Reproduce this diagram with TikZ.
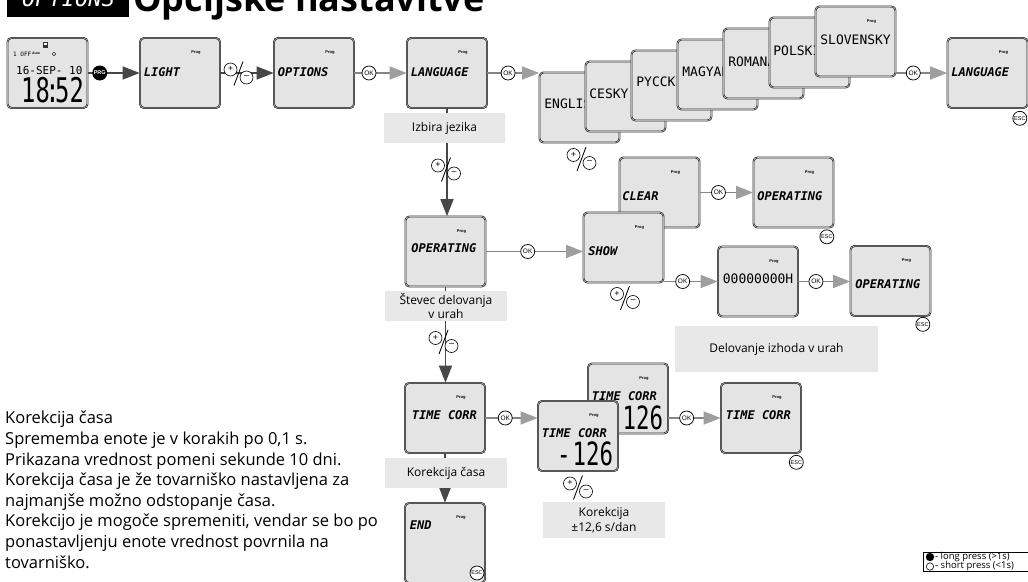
\documentclass[tikz,border=0pt]{standalone}
\usepackage{fontspec}
\setmainfont{Open Sans}
\newfontfamily\lcdf{DejaVu Sans Mono}
\newfontfamily\lcdbig{DejaVu Sans Mono}[FakeStretch=0.7]
\newfontfamily\tinyf{Liberation Sans}
\usetikzlibrary{arrows.meta,calc}
\definecolor{dispfill}{HTML}{E4E4E4}
\definecolor{boxfill}{HTML}{E8E8E8}
\tikzset{
  disp/.style={draw=black!85, line width=0.65pt, double=black!30, double distance=0.6pt,
    fill=dispfill, rounded corners=4pt, minimum width=80pt, minimum height=70pt, inner sep=0pt},
  lcdi/.style={font=\lcdf\bfseries\itshape\fontsize{12}{12}\selectfont, inner sep=0pt, anchor=west},
  lcdu/.style={font=\lcdf\fontsize{13}{13}\selectfont, inner sep=0pt, anchor=west},
  progs/.style={font=\tinyf\bfseries\fontsize{4}{4}\selectfont, inner sep=0pt},
  okc/.style={circle, draw=black, line width=0.75pt, fill=white, inner sep=0pt, minimum size=14pt,
    font=\tinyf\fontsize{6.5}{6.5}\selectfont},
  escc/.style={okc, font=\tinyf\fontsize{5.5}{5.5}\selectfont},
  prgc/.style={circle, fill=black, text=white, inner sep=0pt, minimum size=15pt,
    font=\tinyf\bfseries\fontsize{5.5}{5.5}\selectfont},
  lbl/.style={fill=boxfill, inner sep=0pt, align=center, font=\fontsize{12}{14.5}\selectfont},
  legt/.style={anchor=west, inner sep=0pt, font=\fontsize{9.5}{9.5}\selectfont},
  darr/.style={draw=black!72, line width=1.4pt, -{Triangle[length=17pt,width=13pt]}},
  larr/.style={draw=black!48, line width=1.4pt, -{Triangle[length=17pt,width=13pt,color=black!38]}},
  pm/.pic={
    \draw[line width=0.65pt, fill=white] (-8,-4) circle (6.5) (8,4) circle (6.5);
    \node[inner sep=0pt, font=\tinyf\fontsize{9}{9}\selectfont] (-p) at (-8,-4.4) {+};
    \node[inner sep=0pt, font=\tinyf\fontsize{9}{9}\selectfont] (-m) at (8,3.5) {–};
    \draw[line width=0.85pt] (4.5,-12) -- (-4.5,12);
  }
}
\newcommand\prog[1]{\node[progs] (#1-prog) at ($(#1.center)+(16,-20)$) {Prog};}
\newcommand\esc[2]{\node[escc] (#1-esc) at ($(#1.south east)+#2$) {ESC};}
\begin{document}
\begin{tikzpicture}[x=1pt,y=-1pt]
\useasboundingbox (0,0) rectangle (1028,581);
% ---------- title
\fill (7,-6) rectangle (129,17);
\node[font=\lcdf\itshape\fontsize{22}{22}\selectfont, text=white, anchor=base west, inner sep=0pt] (ttl-lcd) at (22,6) {OPTIONS};
\node[font=\bfseries\fontsize{36}{36}\selectfont, anchor=base west, inner sep=0pt] (ttl) at (133,11) {Opcijske nastavitve};
% ---------- row 1
\node[disp] (clk) at (47.5,73) {};
\fill[black!80] (43,42) rectangle (48,48);
\fill[white] (44,43) rectangle (47,45);
\node[font=\lcdf\fontsize{6}{6}\selectfont, inner sep=0pt, anchor=west] (clk-off) at (13,54) {1 OFF};
\node[font=\tinyf\bfseries\fontsize{3.5}{3.5}\selectfont, inner sep=0pt] (clk-auto) at (36,53) {Auto};
\draw[line width=0.4pt] (54,54) circle (1.8);
\node[font=\lcdf\fontsize{11}{11}\selectfont, inner sep=0pt, anchor=west] (clk-date) at (16,70) {16-SEP- 10};
\node[font=\lcdbig\fontsize{34}{34}\selectfont, inner sep=0pt, anchor=west] (clk-time) at (21,90) {18\kern-4.5pt:\kern-4.5pt52};

\node[disp] (light) at (180,73) {};
\node[lcdi] (light-t) at ($(light.west)+(4,-1)$) {LIGHT};
\prog{light}
\node[disp] (opts) at (314,73) {};
\node[lcdi] (opts-t) at ($(opts.west)+(4,-1)$) {OPTIONS};
\prog{opts}
\node[disp] (lang) at (447,73) {};
\node[lcdi] (lang-t) at ($(lang.west)+(4,-1)$) {LANGUAGE};
\prog{lang}

% language stack
\node[disp] (eng) at (579.5,107.5) {};
\node[lcdu] (eng-t) at ($(eng.west)+(5,-4)$) {ENGLISH};
\node[disp] (ces) at (625.5,96.5) {};
\node[lcdu] (ces-t) at ($(ces.west)+(4,-3)$) {CESKY};
\node[disp] (pyc) at (671.5,85.5) {};
\node[lcdu] (pyc-t) at ($(pyc.west)+(5,-4)$) {PYCCKI};
\node[disp] (mag) at (717.5,74.5) {};
\node[lcdu] (mag-t) at ($(mag.west)+(5,-3)$) {MAGYAR};
\node[disp] (rom) at (763.5,63.5) {};
\node[lcdu] (rom-t) at ($(rom.west)+(5,-2)$) {ROMANA};
\node[disp] (pol) at (809.5,52.5) {};
\node[lcdu] (pol-t) at ($(pol.west)+(4,-2)$) {POLSKI};
\node[disp] (slo) at (855.5,41.5) {};
\node[lcdu] (slo-t) at ($(slo.west)+(5,-2)$) {SLOVENSKY};
\prog{slo}

\node[disp] (lang2) at (987.5,73) {};
\node[lcdi] (lang2-t) at ($(lang2.west)+(4,-1)$) {LANGUAGE};
\prog{lang2}
\esc{lang2}{(-8,10)}

% ---------- vertical chain
\node[disp] (oper) at (445.5,251.5) {};
\node[lcdi] (oper-t) at ($(oper.west)+(6,-3)$) {OPERATING};
\prog{oper}
\node[disp] (tcorr) at (445,418) {};
\node[lcdi] (tcorr-t) at ($(tcorr.west)+(7,-3)$) {TIME CORR};
\prog{tcorr}
\node[disp, minimum height=80pt] (end) at (445,543) {};
\node[lcdi] (end-t) at ($(end.north west)+(5,22)$) {END};
\node[progs] (end-prog) at ($(end.north)+(16,15)$) {Prog};
\node[escc] (end-esc) at (477,573) {ESC};

% ---------- operating branch
\node[disp] (clear) at (659.5,192.5) {};
\node[lcdi] (clear-t) at ($(clear.west)+(3,4)$) {CLEAR};
\prog{clear}
\node[disp] (show) at (623.5,247.5) {};
\node[lcdi] (show-t) at ($(show.west)+(5,4)$) {SHOW};
\prog{show}
\node[disp] (oper2) at (793.5,192.5) {};
\node[lcdi] (oper2-t) at ($(oper2.west)+(4,4)$) {OPERATING};
\prog{oper2}
\esc{oper2}{(-7,9)}
\node[disp] (hours) at (758,281.5) {};
\node[lcdu] (hours-t) at ($(hours.west)+(5,-3)$) {00000000H};
\prog{hours}
\node[disp] (oper3) at (890.5,281) {};
\node[lcdi] (oper3-t) at ($(oper3.west)+(5,3)$) {OPERATING};
\prog{oper3}
\esc{oper3}{(-8,8)}

% ---------- time corr branch
\node[disp] (tcback) at (628,398.5) {};
\node[lcdi] (tcback-t) at ($(tcback.west)+(4,-2)$) {TIME CORR};
\node[font=\lcdbig\fontsize{32}{32}\selectfont, inner sep=0pt, anchor=east] (tcback-v) at ($(tcback.east)+(-5,19.5)$) {-\kern2pt126};
\prog{tcback}
\node[disp] (tcfront) at (578,436) {};
\node[lcdi] (tcfront-t) at ($(tcfront.west)+(4,-3)$) {TIME CORR};
\node[font=\lcdbig\fontsize{32}{32}\selectfont, inner sep=0pt, anchor=east] (tcfront-v) at ($(tcfront.east)+(-5,18)$) {-\kern2pt126};
\prog{tcfront}
\node[disp] (tcorr2) at (761,418) {};
\node[lcdi] (tcorr2-t) at ($(tcorr2.west)+(5,-3)$) {TIME CORR};
\prog{tcorr2}
\esc{tcorr2}{(-5,9)}

% ---------- connectors
\draw[darr] (clk.east) -- node[prgc, pos=0.23] (prg) {PRG} (light.west);
\draw[darr] (light.east) -- (opts.west);
\pic (pm0) at (238.5,73.5) {pm};
\draw[larr] (opts.east) -- node[okc, pos=0.28] (ok1) {OK} (lang.west);
\draw[larr] (lang.east) -- node[okc, pos=0.40] (ok2) {OK} (lang.east -| eng.west);
\draw[larr] (lang2.west -| slo.east) -- node[okc, pos=0.34] (ok3) {OK} (lang2.west);
\pic (pm1) at (581.5,159) {pm};

\draw[darr] (lang.south) -- (lang.south |- oper.north);
\node[lbl, minimum width=121pt, minimum height=30pt] (lbl-lang) at (444.5,128) {Izbira jezika};
\pic (pm2) at (446,169.5) {pm};

\draw[larr] (oper.east) -- node[okc, pos=0.43] (ok4) {OK} (oper.east -| show.west);
\draw[larr] (clear.east) -- node[okc, pos=0.35] (ok5) {OK} (oper2.west);
\draw[larr] (hours.west -| show.east) -- node[okc, pos=0.35] (ok6) {OK} (hours.west);
\draw[larr] (hours.east) -- node[okc, pos=0.34] (ok7) {OK} (hours.east -| oper3.west);
\pic (pm3) at (625,298) {pm};
\node[lbl, minimum width=203pt, minimum height=46pt] (lbl-del) at (776.5,349) {Delovanje izhoda v urah};

\draw[darr] (oper.south) -- (oper.south |- tcorr.north);
\node[lbl, minimum width=122pt, minimum height=30pt] (lbl-stev) at (446,306) {Števec delovanja\\v urah};
\pic (pm4) at (443.5,342) {pm};

\draw[larr] (tcorr.east) -- node[okc, pos=0.38] (ok8) {OK} (tcorr.east -| tcfront.west);
\draw[larr] (tcorr2.west -| tcback.east) -- node[okc, pos=0.35] (ok9) {OK} (tcorr2.west);
\pic (pm5) at (578,487.5) {pm};
\node[lbl, minimum width=122pt, minimum height=36pt] (lbl-korr) at (604,520) {Korekcija\\ ±12,6 s/dan};

\draw[darr] (tcorr.south) -- (end.north);
\node[lbl, minimum width=122pt, minimum height=30pt] (lbl-cas) at (446,473) {Korekcija časa};

% ---------- left text
\node[anchor=north west, inner sep=0pt, align=left, font=\fontsize{16.5}{20.6}\selectfont] (note) at (5,411)
 {Korekcija časa\\
  Sprememba enote je v korakih po 0,1 s.\\
  Prikazana vrednost pomeni sekunde 10 dni.\\
  Korekcija časa je že tovarniško nastavljena za\\
  najmanjše možno odstopanje časa.\\
  Korekcijo je mogoče spremeniti, vendar se bo po\\
  ponastavljenju enote vrednost povrnila na\\
  tovarniško.};

% ---------- legend
\draw[line width=0.6pt] (1040,552) -- (923,552) -- (923,571) -- (1040,571);
\fill (930,557) circle (4.2);
\draw[line width=0.6pt] (930,566.5) circle (3.7);
\node[legt] (leg1) at (935,557) {- long press (>1s)};
\node[legt] (leg2) at (935,566.5) {- short press (<1s)};
\end{tikzpicture}
\end{document}
